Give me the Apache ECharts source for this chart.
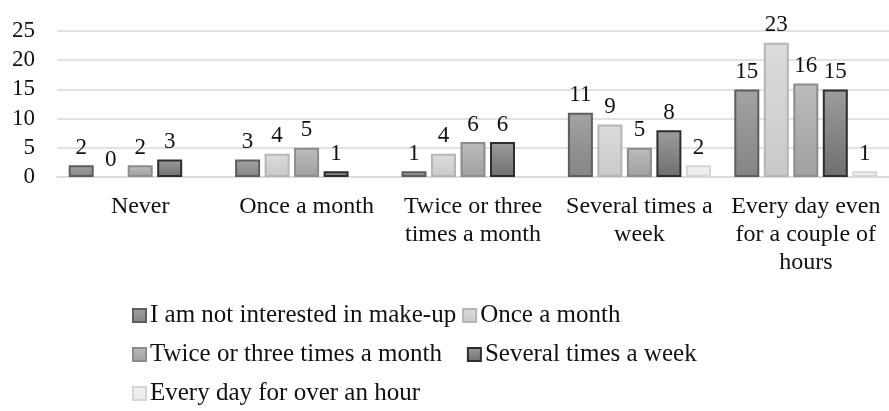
<!DOCTYPE html>
<html>
<head>
<meta charset="utf-8">
<script src="https://cdn.jsdelivr.net/npm/echarts@6/dist/echarts.min.js"></script>
<style>html,body{margin:0;padding:0;background:#fff;}#c{width:889px;height:411px;}</style>
</head>
<body>
<div id="c"></div>
<script>
const categories = ["Never", "Once a month", "Twice or three\ntimes a month", "Several times a\nweek", "Every day even\nfor a couple of\nhours"];
const seriesNames = ["I am not interested in make-up", "Once a month", "Twice or three times a month", "Several times a week", "Every day for over an hour"];
const notInterested = [2, 3, 1, 11, 15];
const onceMonth = [0, 4, 4, 9, 23];
const twiceThree = [2, 5, 6, 5, 16];
const severalWeek = [3, 1, 6, 8, 15];
const everyDayHour = [null, null, null, 2, 1];
const yTicks = [0, 5, 10, 15, 20, 25];

const values = [notInterested, onceMonth, twiceThree, severalWeek, everyDayHour];
const fills = [
  ['#a3a3a3', '#848484'],
  ['#dcdcdc', '#c9c9c9'],
  ['#bcbcbc', '#a0a0a0'],
  ['#9c9c9c', '#6f6f6f'],
  ['#f2f2f2', '#eaeaea']
];
const borders = ['#5e5e5e', '#b5b5b5', '#8c8c8c', '#2e2e2e', '#d6d6d6'];
const FONT = '"Liberation Serif", "Times New Roman", serif';

const series = values.map((v, i) => ({
  name: seriesNames[i],
  type: 'bar',
  data: v.map(x => (x === 0 ? {value: 0, itemStyle: {borderWidth: 0}} : x)),
  barWidth: 25,
  barGap: '18%',
  itemStyle: {
    color: new echarts.graphic.LinearGradient(0, 0, 0, 1, [
      {offset: 0, color: fills[i][0]}, {offset: 1, color: fills[i][1]}
    ]),
    borderColor: borders[i],
    borderWidth: 2
  },
  label: {
    show: true, position: 'top', distance: 6,
    fontFamily: FONT, fontSize: 23, color: '#111'
  }
}));

const legendCommon = {
  orient: 'horizontal',
  left: 132,
  itemWidth: 13, itemHeight: 13,
  icon: 'rect',
  textStyle: {fontFamily: FONT, fontSize: 25, color: '#111', padding: [0, 0, 0, -1]},
  padding: 0
};

const chart = echarts.init(document.getElementById('c'), null, {renderer: 'canvas'});
chart.setOption({
  animation: false,
  backgroundColor: '#fff',
  grid: {left: 57, top: 31, width: 840, height: 146, containLabel: false},
  legend: [
    Object.assign({}, legendCommon, {top: 303, itemGap: 6, data: [seriesNames[0], seriesNames[1]]}),
    Object.assign({}, legendCommon, {top: 342, itemGap: 25, data: [seriesNames[2], seriesNames[3]]}),
    Object.assign({}, legendCommon, {top: 381, itemGap: 6, data: [seriesNames[4]]})
  ],
  xAxis: {
    type: 'category',
    data: categories,
    axisLine: {show: true, lineStyle: {color: '#d9d9d9', width: 1.5}},
    axisTick: {show: false},
    axisLabel: {
      interval: 0, margin: 16,
      fontFamily: FONT, fontSize: 24, color: '#111', lineHeight: 28
    }
  },
  yAxis: {
    type: 'value',
    min: yTicks[0], max: yTicks[yTicks.length - 1], interval: 5,
    axisLine: {show: false},
    axisTick: {show: false},
    splitLine: {lineStyle: {color: '#d9d9d9', width: 1.5}},
    axisLabel: {margin: 22, fontFamily: FONT, fontSize: 23, color: '#111'}
  },
  series: series
});
</script>
</body>
</html>
